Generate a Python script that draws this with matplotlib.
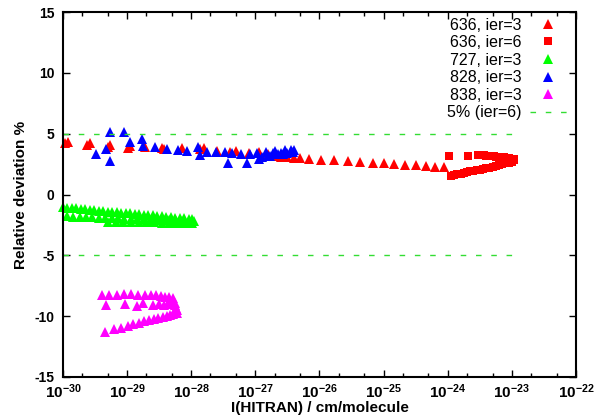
import matplotlib
matplotlib.use('Agg')
import matplotlib.pyplot as plt
import numpy as np
from matplotlib.ticker import LogLocator, FuncFormatter, NullFormatter, FixedLocator

plt.rcParams['font.family'] = 'Liberation Sans'
plt.rcParams['font.size'] = 10
plt.rcParams['mathtext.fontset'] = 'custom'
plt.rcParams['mathtext.bf'] = 'Liberation Sans:bold'
plt.rcParams['mathtext.rm'] = 'Liberation Sans:bold'

# 636, ier=3  (log10 intensity, deviation %)
log_636_3 = [-29.97, -29.92, -29.62, -29.57, -29.30, -29.27, -28.98, -28.95, -28.72, -28.45,
             -28.42, -28.14, -27.87, -27.80, -27.60, -27.40, -27.30, -27.10, -26.95, -26.80,
             -26.70, -26.60, -26.50, -26.40, -26.30,
             -26.17, -25.97, -25.77, -25.55, -25.36, -25.17, -25.00, -24.83, -24.66, -24.50,
             -24.34, -24.20, -24.06]
dev_636_3 = [4.2, 4.3, 4.1, 4.2, 3.9, 4.1, 3.8, 4.0, 3.9, 3.8,
             3.7, 3.8, 3.7, 3.8, 3.6, 3.5, 3.6, 3.4, 3.5, 3.3,
             3.2, 3.1, 3.05, 3.0, 3.0,
             2.9, 2.85, 2.8, 2.75, 2.7, 2.6, 2.55, 2.5, 2.45, 2.4,
             2.35, 2.3, 2.3]

# 636, ier=6
log_636_6 = [-23.98, -23.68,
             -23.52, -23.48, -23.44, -23.40, -23.36, -23.32, -23.28, -23.24, -23.20, -23.16,
             -23.12, -23.08, -23.04, -23.00, -22.96,
             -23.95, -23.90, -23.85, -23.80, -23.75, -23.70, -23.65, -23.60, -23.55, -23.50,
             -23.45, -23.40, -23.35, -23.30, -23.25, -23.20, -23.15, -23.10, -23.05, -23.00,
             -22.96]
dev_636_6 = [3.15, 3.15,
             3.25, 3.25, 3.22, 3.2, 3.2, 3.17, 3.15, 3.12, 3.1, 3.08,
             3.05, 3.02, 3.0, 2.95, 2.9,
             1.55, 1.6, 1.65, 1.7, 1.78, 1.85, 1.9, 1.95, 2.0, 2.05,
             2.1, 2.15, 2.2, 2.28, 2.35, 2.4, 2.5, 2.55, 2.62, 2.7,
             2.8]

# 727, ier=3
log_727 = [-30.00, -29.93, -29.86, -29.79, -29.72, -29.65, -29.58, -29.51, -29.44, -29.37,
           -29.30, -29.23, -29.16, -29.09, -29.02, -28.95, -28.88, -28.81, -28.74, -28.67,
           -28.60, -28.53, -28.46, -28.39, -28.32, -28.25, -28.18, -28.11, -28.04, -27.98,
           -29.94, -29.84, -29.74, -29.64, -29.54, -29.44, -29.34, -29.24, -29.14, -29.04,
           -28.94, -28.84, -28.74, -28.64, -28.54, -28.44, -28.34, -28.24, -28.14, -28.04,
           -27.96,
           -29.30, -29.18, -29.06, -28.94, -28.82, -28.70, -28.58, -28.46, -28.34, -28.22,
           -28.10, -27.98]
dev_727 = [-1.05, -1.10, -1.12, -1.15, -1.20, -1.22, -1.25, -1.30, -1.32, -1.36,
           -1.40, -1.42, -1.46, -1.50, -1.52, -1.56, -1.60, -1.62, -1.66, -1.70,
           -1.72, -1.76, -1.80, -1.82, -1.86, -1.90, -1.92, -1.96, -2.00, -2.05,
           -1.80, -1.82, -1.85, -1.86, -1.88, -1.90, -1.92, -1.95, -1.96, -1.98,
           -2.00, -2.02, -2.04, -2.06, -2.08, -2.10, -2.12, -2.14, -2.16, -2.18,
           -2.20,
           -2.22, -2.24, -2.25, -2.27, -2.28, -2.29, -2.30, -2.31, -2.32, -2.33,
           -2.34, -2.35]

# 828, ier=3
log_828 = [-29.48, -29.33, -29.27, -29.27, -29.05, -28.95, -28.77, -28.75, -28.56, -28.37,
           -28.20, -28.06, -27.90, -27.87, -27.75, -27.62, -27.48, -27.42, -27.36, -27.23,
           -27.13, -27.08, -26.97, -26.94, -26.90, -26.84, -26.80, -26.77, -26.72, -26.69,
           -26.65, -26.60, -26.57, -26.53, -26.50, -26.45, -26.42, -26.40]
dev_828 = [3.3, 3.75, 5.15, 2.75, 5.15, 4.3, 4.6, 4.0, 3.9, 3.75,
           3.65, 3.55, 3.9, 3.25, 3.5, 3.5, 3.5, 2.6, 3.4, 3.3,
           2.6, 3.35, 3.4, 2.9, 3.1, 3.5, 3.15, 3.2, 3.4, 3.6,
           3.3, 3.45, 3.35, 3.65, 3.4, 3.65, 3.5, 3.65]

# 838, ier=3
log_838 = [-29.39, -29.28, -29.16, -29.05, -28.94, -28.83, -28.72, -28.63, -28.55, -28.47,
           -28.41, -28.34, -28.28,
           -29.33, -29.03, -28.84, -28.75, -28.60, -28.50, -28.42, -28.36, -28.30, -28.25,
           -28.22, -28.22, -28.24, -28.26,
           -29.34, -29.21, -29.10, -28.99, -28.90, -28.81, -28.73, -28.65, -28.58, -28.51,
           -28.44, -28.38, -28.33, -28.28]
dev_838 = [-8.25, -8.3, -8.3, -8.2, -8.2, -8.25, -8.3, -8.3, -8.3, -8.35,
           -8.4, -8.45, -8.5,
           -9.1, -9.0, -9.2, -8.95, -9.1, -9.0, -9.1, -8.9, -9.0, -8.9,
           -9.75, -9.5, -9.3, -9.1,
           -11.27, -11.08, -10.95, -10.8, -10.67, -10.53, -10.42, -10.34, -10.26, -10.15,
           -10.07, -9.98, -9.9, -9.82]

# 5% limit lines
lim_x = [1e-30, 1e-23]
lim_hi = [5, 5]
lim_lo = [-5, -5]

# axis ticks
x_decades = [-30, -29, -28, -27, -26, -25, -24, -23, -22]
y_ticks = [-15, -10, -5, 0, 5, 10, 15]

fig = plt.figure(figsize=(6.05, 4.2), dpi=100)
ax = fig.add_axes([0.104, 0.1024, 0.848, 0.869])

def p(logs):
    return 10.0 ** np.array(logs)

ms = 7
ax.plot(p(log_636_3), dev_636_3, '^', color='#ff0000', ms=ms, mew=0, label='636, ier=3', clip_on=False)
ax.plot(p(log_636_6), dev_636_6, 's', color='#ff0000', ms=5.5, mew=0, label='636, ier=6')
ax.plot(p(log_727), dev_727, '^', color='#00ff00', ms=ms, mew=0, label='727, ier=3', clip_on=False)
ax.plot(p(log_828), dev_828, '^', color='#0000ff', ms=ms, mew=0, label='828, ier=3')
ax.plot(p(log_838), dev_838, '^', color='#ff00ff', ms=ms, mew=0, label='838, ier=3')
ax.plot(lim_x, lim_hi, color='#33dd33', lw=1, dashes=(4, 7), label='5% (ier=6)')
ax.plot(lim_x, lim_lo, color='#33dd33', lw=1, dashes=(4, 7))

ax.set_xscale('log')
ax.set_xlim(1e-30, 1e-22)
ax.set_ylim(-15, 15)
ax.xaxis.set_major_locator(FixedLocator(p(x_decades)))
ax.xaxis.set_minor_locator(LogLocator(base=10, subs=(2, 5), numticks=20))
ax.xaxis.set_minor_formatter(NullFormatter())
ax.xaxis.set_major_formatter(FuncFormatter(lambda v, pos: r'$\mathbf{10^{%d}}$' % round(np.log10(v))))
ax.yaxis.set_major_locator(FixedLocator(y_ticks))
ax.yaxis.set_major_formatter(FuncFormatter(lambda v, pos: '%d' % v))

ax.tick_params(which='both', direction='in', top=True, right=True, width=1)
ax.tick_params(which='major', length=5)
ax.tick_params(which='minor', length=3)
ax.tick_params(axis='y', pad=6, labelsize=10)
ax.tick_params(axis='x', pad=4, labelsize=11)
for s in ax.spines.values():
    s.set_linewidth(1.5)

ax.set_xlabel('I(HITRAN) / cm/molecule', fontweight='bold', fontsize=11, labelpad=0)
ax.set_ylabel('Relative deviation %', fontweight='bold', fontsize=11, labelpad=5)

ax.legend(loc='upper right', bbox_to_anchor=(0.991, 0.998), markerfirst=False, frameon=False,
          handlelength=2.3, handletextpad=0.5, labelspacing=0.16, borderaxespad=0.1,
          borderpad=0.2, fontsize=11.5)

plt.setp(ax.get_yticklabels(), fontweight='bold')
fig.savefig('out.png', dpi=100)
